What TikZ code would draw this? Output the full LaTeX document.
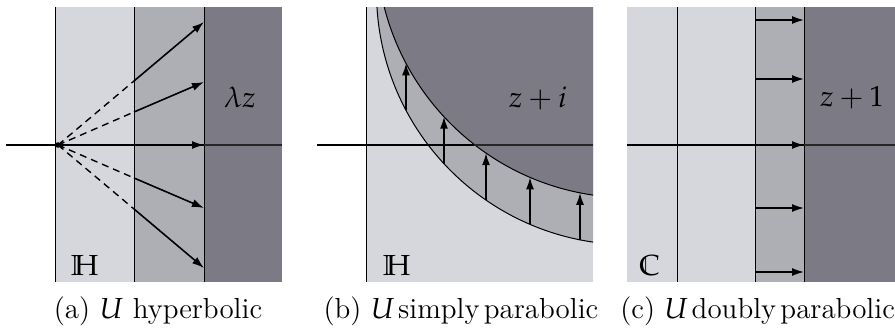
\documentclass[tikz,border=0pt]{standalone}
\usepackage{mathpazo}
\usetikzlibrary{arrows.meta}
\definecolor{lightR}{RGB}{214,214,221}
\definecolor{midR}{RGB}{174,174,181}
\definecolor{darkR}{RGB}{124,122,132}
\tikzset{
  vline/.style={line width=0.5pt},
  axisline/.style={line width=0.6pt},
  axisdark/.style={line width=1.1pt, black!85},
  maparrow/.style={line width=0.8pt,-{Latex[length=6pt,width=4pt]}},
  dashray/.style={line width=0.7pt,dash pattern=on 3.5pt off 2.5pt},
  lbl/.style={font=\fontsize{14.5}{17}\selectfont, inner sep=0pt},
  captext/.style={lbl, anchor=base},
}
\begin{document}
\begin{tikzpicture}[x=0.5pt,y=-0.5pt]
\useasboundingbox (0,0) rectangle (895,332);

% ---------------- panel (a) ----------------
\fill[lightR] (55,7) rectangle (134,282);
\fill[midR] (134,7) rectangle (204,282);
\fill[darkR] (204,7) rectangle (282,282);
\draw[vline] (55,7) -- (55,282);
\draw[vline] (134,7) -- (134,282);
\draw[vline] (204,7) -- (204,282);
\coordinate (aL) at (6,145);
\coordinate (aR) at (282,145);
\coordinate (aO) at (58,145);
\draw[axisline] (aL) -- (aR);
\draw[axisdark] (204,145) coordinate (aD) -- (aR);
\fill (aO) circle[radius=1.4pt];
\foreach \i/\s/\e in {1/81/22, 2/112/82, 4/178/208, 5/209/268} {
  \coordinate (as\i) at (134,\s);
  \coordinate (ae\i) at (204,\e);
  \draw[dashray] (aO) -- (as\i);
  \draw[maparrow] (as\i) -- (ae\i);
}
\coordinate (as3) at (134,145);
\coordinate (ae3) at (204,145);
\draw[maparrow] (as3) -- (ae3);
\node[lbl] (la) at (240,97) {$\lambda z$};
\node[lbl] (Ha) at (85,266) {$\mathbb{H}$};
\node[captext] (capa) at (158,318) {(a) $U$ hyperbolic};

% ---------------- panel (b) ----------------
\begin{scope}
  \clip (366,7) rectangle (593,282);
  \fill[lightR] (366,7) rectangle (593,282);
  \fill[midR] (629.5,-8.3) circle[radius=126.5pt];
  \fill[darkR] (629.5,-55.3) circle[radius=126.5pt];
  \draw[vline] (629.5,-8.3) circle[radius=126.5pt];
  \draw[vline] (629.5,-55.3) circle[radius=126.5pt];
\end{scope}
\draw[vline] (366,7) -- (366,282);
\coordinate (bL) at (317,145);
\coordinate (bR) at (593,145);
\draw[axisline] (bL) -- (bR);
\draw[axisdark] (474,145) coordinate (bD) -- (bR);
\foreach \i/\x/\s/\e in {1/406/110.3/63.3, 2/444/163.7/116.7, 3/486/200.1/153.1, 4/530/224.3/177.3, 5/580/239.8/192.8} {
  \coordinate (bs\i) at (\x,\s);
  \coordinate (be\i) at (\x,\e);
  \draw[maparrow] (bs\i) -- (be\i);
}
\node[lbl] (lb) at (538,98) {$z+i$};
\node[lbl] (Hb) at (397,266) {$\mathbb{H}$};
\node[captext] (capb) at (461,318) {(b) $U$\hspace{0.12em}simply\hspace{0.15em}parabolic};

% ---------------- panel (c) ----------------
\fill[lightR] (627,7) rectangle (755,282);
\fill[midR] (755,7) rectangle (804,282);
\fill[darkR] (804,7) rectangle (900,282);
\draw[vline] (677,7) -- (677,282);
\draw[vline] (755,7) -- (755,282);
\draw[vline] (804,7) -- (804,282);
\coordinate (cL) at (627,145);
\coordinate (cR) at (900,145);
\draw[axisline] (cL) -- (cR);
\draw[axisdark] (804,145) coordinate (cD) -- (cR);
\foreach \i/\y in {1/20, 2/79, 3/145, 4/208, 5/272} {
  \coordinate (cs\i) at (755,\y);
  \coordinate (ce\i) at (804,\y);
  \draw[maparrow] (cs\i) -- (ce\i);
}
\node[lbl] (lc) at (852,98) {$z+1$};
\node[lbl] (Cc) at (650,266) {$\mathbb{C}$};
\node[captext, anchor=base west] (capc) at (620,318) {(c) $U$\hspace{0.12em}doubly\hspace{0.15em}parabolic};
\end{tikzpicture}
\end{document}
